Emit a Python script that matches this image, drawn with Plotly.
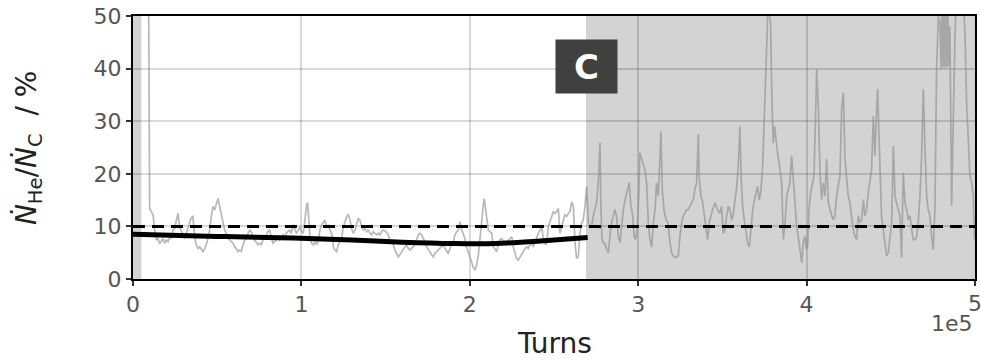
import plotly.graph_objects as go

# Helium-to-carbon rate ratio (%) versus turn number
turns = [
    8700, 9100, 9500, 9900, 10900, 11900, 12900, 13900, 14800, 15800, 16800, 17800, 18800, 19800,
    20800, 21800, 22800, 23700, 24700, 25700, 26700, 27700, 28700, 29700, 30700, 31700, 32700,
    33600, 34600, 35600, 36600, 37600, 38600, 39600, 40600, 41600, 42600, 43500, 44500, 45500,
    46500, 47500, 48500, 49500, 50500, 51500, 52400, 53400, 54400, 55400, 56400, 57400, 58400,
    59400, 60400, 61300, 62300, 63300, 64300, 65300, 66300, 67300, 68300, 69300, 70300, 71200,
    72200, 73200, 74200, 75200, 76200, 77200, 78200, 79200, 80100, 81100, 82100, 83100, 84100,
    85100, 86100, 87100, 88100, 89100, 90100, 91000, 92000, 93000, 94000,
    95200, 96200, 97200, 98200, 99200, 100200, 101100, 102100, 103100, 103700, 104500, 105100,
    106100, 107100, 108100, 109100, 110100, 111000, 112000, 113000, 114000, 115000, 116000,
    117000, 118000, 119000, 119900, 120900, 121900, 122900, 123900, 124900, 125900, 126900,
    127900, 128900, 129800, 130800, 131800, 132800, 133800, 134800, 135800, 136800, 137800,
    138700, 139700, 140700, 141700, 142700, 143700, 144700, 145700, 146700, 147600, 148600,
    149600, 150600, 151600, 152600, 153600, 154600, 155600, 156600, 157500, 158500, 159500,
    160500, 161500, 162500, 163500, 164500, 165500, 166400, 167400, 168400, 169400, 170400,
    171400, 172400, 173400, 174400, 175400, 176400, 177300, 178300, 179300, 180300, 181300,
    182300, 183300, 184300, 185300, 186200, 187200,
    188200, 189200, 190200, 191200, 192200, 193200, 194200, 195200, 196200, 197100, 198100,
    199100, 200100, 201100, 202100, 203100, 204100, 205100, 206100, 207000, 208000, 208600,
    209400, 210000, 211000, 212000, 213000, 214000, 215000, 216000, 216900, 217900, 218900,
    219900, 220900, 221900, 222900, 223900, 224900, 225800, 226800, 227800, 228800, 229800,
    230800, 231800, 232800, 233800, 234700, 235700, 236700, 237700, 238700, 239700, 240700,
    241700, 242700, 243700, 244600, 245600, 246600, 247600, 248600, 249600, 250600, 251600,
    252600, 253500, 254500, 255500, 256500, 257500, 258500, 259500, 260500, 261500, 262500,
    263400, 264400, 265400, 266400, 267400, 268400, 269400,
    270400, 271400, 272400, 273300, 274300, 275300, 276300, 277300, 277900, 278500, 279300,
    280300, 281300, 282300, 283200, 284200, 285200, 286200, 287200, 288200, 289200, 290200,
    291200, 292200, 293100, 294100, 294700, 295500, 296700, 297500, 298500, 299500, 300300,
    301000, 302000, 303000, 304000, 305000, 306000, 307000, 308000, 309000, 310000, 310900,
    311900, 312900, 313500, 314300, 315300, 316500, 317700, 318900, 319800, 320800, 321800,
    322800, 323800, 324800, 325800, 326800, 327800, 328800, 329700, 330700, 331700, 332700,
    333700, 334700, 335700, 336300, 337300, 338300, 339300, 340200, 341200, 342200, 343200,
    344200, 345600, 347000,
    348500, 349500, 350500, 351500, 352500, 353500, 354500, 355500, 356500, 357500, 358500,
    359400, 360400, 361200, 362000, 363000, 364000, 365000, 366000, 367000, 368000, 369000,
    369900, 370900, 371900, 372900, 373900, 374900, 375700, 376400, 377200, 377800, 378600,
    379400, 380200, 381000, 381800, 382800,
    384200, 385200, 386200, 387200, 388200, 389100, 390100, 391100, 392100, 393100, 394100,
    395100, 396100, 397100, 398000, 399000, 399800, 400600, 401400, 402400, 403400, 404400,
    405000, 406000, 407000, 408000, 408900, 409900, 410900, 411900, 412900, 413900, 414900,
    415900, 416800, 417800, 418800, 419800, 420800, 421800,
    422800, 423800, 424700, 425700, 426700, 427700, 428700, 429700, 430700, 431700, 432700,
    433700, 434600, 435600, 436600, 437600, 438600, 439600, 440600, 441600, 442200, 443000,
    443500, 444500, 445500, 446500, 447500, 448500, 449500, 450500, 451500, 452500, 453400,
    454400, 455400, 456400, 457400, 458400, 459400, 460400, 461400, 462400, 463300, 464300,
    465300, 466300, 467300, 468300, 469300, 470300, 471300, 472200, 473200, 474200, 475200,
    476200, 477200, 478200, 479200, 479800, 480400, 481000, 481500, 482100, 482700, 483300,
    483900, 484500, 485100, 486100, 487100, 488100, 489100, 490100, 491400, 493000, 494200,
    495000, 496000, 497000, 498000, 499000, 499600,
]
ratio = [
    90, 60, 25, 13.4, 12.8, 12.2, 9.3, 7.4, 7.7, 6.8, 7.1, 7.7, 6.8, 7.4,
    7.1, 8.0, 7.7, 9.3, 9.6, 11.2, 12.5, 9.9, 9.0, 8.4, 7.7, 8.7, 9.9,
    10.9, 11.7, 11.9, 8.0, 6.5, 5.8, 6.1, 5.5, 5.2, 5.8, 6.5, 7.7, 9.3,
    11.9, 13.8, 13.1, 14.4, 15.3, 13.8, 12.5, 10.6, 9.3, 8.7, 8.0, 7.4, 7.1,
    6.8, 6.1, 5.8, 5.2, 5.5, 5.3, 6.5, 7.4, 8.0, 8.7, 9.3, 9.0, 7.7,
    7.4, 6.8, 6.5, 6.8, 6.5, 7.4, 7.7, 8.4, 9.0, 9.3, 8.0, 6.8, 7.1,
    7.4, 7.7, 7.4, 8.0, 8.4, 8.0, 8.7, 9.0, 9.3, 8.7,
    10.3, 9.3, 8.7, 9.3, 9.9, 9.0, 8.7, 11.2, 14.1, 14.5, 11.2, 8.0,
    6.8, 6.5, 7.1, 6.5, 7.4, 9.3, 10.3, 10.9, 11.2, 9.9, 10.3,
    9.3, 8.7, 6.1, 5.5, 5.2, 6.5, 7.1, 7.7, 9.9, 10.9, 11.9,
    12.2, 11.2, 9.6, 8.7, 9.3, 10.6, 11.5, 11.2, 9.9, 9.3, 9.6,
    9.0, 9.3, 8.7, 8.4, 9.0, 8.7, 8.4, 8.7, 8.4, 9.0, 9.3,
    9.2, 8.7, 8.4, 7.1, 6.8, 6.5, 5.5, 4.9, 4.2, 4.6, 5.2,
    5.5, 6.1, 6.5, 5.8, 5.5, 5.8, 6.1, 6.5, 7.4, 8.4, 8.7,
    8.4, 7.7, 7.1, 6.1, 5.5, 4.9, 4.6, 4.2, 4.9, 5.2, 5.5,
    5.8, 6.1, 6.5, 5.8, 5.2, 4.8,
    5.8, 6.5, 7.1, 8.4, 9.0, 9.3, 10.9, 9.3, 8.4, 7.7, 6.1,
    5.2, 4.2, 3.0, 2.2, 1.7, 2.7, 4.6, 8.4, 11.2, 14.1, 15.3,
    13.1, 11.9, 9.3, 9.0, 8.7, 6.1, 5.5, 5.2, 6.5, 7.4, 7.7,
    7.1, 6.8, 6.5, 7.4, 7.7, 8.0, 6.1, 4.9, 3.9, 3.6, 4.2,
    4.6, 5.2, 5.8, 6.1, 5.8, 6.5, 6.8, 6.1, 7.1, 7.7, 8.7,
    9.3, 9.9, 7.4, 6.8, 6.5, 9.9, 10.9, 11.9, 12.8, 12.5, 12.8,
    13.4, 8.7, 9.9, 11.2, 12.2, 11.9, 12.5, 12.8, 14.7, 13.8, 6.8,
    3.9, 4.2, 8.7, 10.6, 11.2, 13.8, 17.6,
    10.7, 9.8, 10.1, 12.0, 13.2, 14.5, 18.3, 25.9, 13.2, 7.5, 6.9,
    6.6, 5.6, 5.0, 8.2, 10.7, 12.0, 13.2, 11.7, 8.2, 6.9, 10.7,
    13.2, 15.1, 16.4, 17.7, 18.3, 14.5, 12.0, 8.2, 7.5, 10.1, 15.8,
    24.0, 22.8, 21.5, 20.8, 18.3, 10.7, 7.5, 6.0, 10.7, 13.2, 18.3,
    15.8, 22.8, 28.1, 17.0, 13.2, 11.3, 10.7, 6.9, 5.0, 4.4, 4.1,
    4.1, 4.4, 8.2, 10.7, 12.0, 12.6, 13.2, 13.2, 13.9, 14.5, 15.1,
    17.0, 18.3, 27.5, 18.9, 15.8, 14.5, 12.0, 9.4, 7.5, 10.7, 12.0,
    13.2, 14.5, 13.2,
    12.5, 13.8, 8.7, 9.3, 11.9, 13.8, 13.1, 11.2, 12.5, 15.0, 17.6,
    21.4, 29.0, 18.8, 13.8, 11.2, 8.7, 6.8, 6.1, 9.9, 13.1, 15.0,
    16.3, 17.6, 15.0, 16.9, 21.4, 30.9, 40.4, 49.2, 53, 51, 48.6,
    34.0, 25.8, 29.0, 26.4, 23.9,
    20.8, 18.3, 7.5, 10.7, 15.8, 17.0, 18.3, 23.4, 17.7, 14.5, 10.1,
    8.2, 5.6, 3.1, 6.9, 8.2, 5.6, 6.3, 13.2, 16.4, 18.3, 19.6,
    27.2, 39.9, 32.3, 19.6, 15.1, 18.3, 15.8, 22.8, 14.5, 13.2, 12.0,
    11.3, 12.0, 15.8, 17.7, 19.6, 32.3, 35.4,
    22.8, 19.6, 15.8, 14.5, 12.0, 9.4, 8.2, 7.5, 12.0, 10.7, 11.3,
    15.1, 12.0, 13.2, 16.4, 18.3, 20.8, 31.0, 23.4, 32.3, 36.1, 27.2,
    20.8, 12.0, 9.4, 6.9, 4.4, 5.0, 8.2, 10.7, 25.3, 15.8, 14.5,
    13.2, 12.0, 4.1, 20.2, 14.5, 13.2, 11.3, 12.0, 9.4, 7.5, 7.5,
    7.9, 10.7, 15.8, 23.4, 36.1, 24.7, 15.8, 13.2, 12.0, 8.2, 5.6,
    13.2, 39.9, 50, 48.7, 39.9, 55, 40.2, 55, 40.2, 55, 40.2,
    50, 40.5, 48, 13.9, 32.3, 46.2, 55, 60, 60, 55, 45,
    33.5, 25.9, 19.6, 18.3, 15.8, 7.5,
]

# Smoothed trend over the first phase
trend_turns = [0, 50000, 95000, 130000, 160000, 190000, 215000, 240000, 258000, 270000]
trend_ratio = [8.5, 8.1, 7.8, 7.4, 7.0, 6.75, 6.75, 7.2, 7.6, 7.9]

# Reference level
threshold_turns = [0, 500000]
threshold_ratio = [10, 10]

# Shaded turn intervals
shaded_spans = [(0, 5000), (269000, 500000)]

x_ticks = [0, 100000, 200000, 300000, 400000, 500000]
x_tick_text = ["0", "1", "2", "3", "4", "5"]
y_ticks = [0, 10, 20, 30, 40, 50]

fig = go.Figure()

for x0, x1 in shaded_spans:
    fig.add_shape(type="rect", xref="x", yref="paper", x0=x0, x1=x1, y0=0, y1=1,
                  fillcolor="#d3d3d3", line=dict(width=0), layer="below")

fig.add_trace(go.Scatter(x=turns, y=ratio, mode="lines",
                         line=dict(color="rgba(140,140,140,0.62)", width=1.7),
                         showlegend=False, hoverinfo="skip"))
fig.add_trace(go.Scatter(x=threshold_turns, y=threshold_ratio, mode="lines",
                         line=dict(color="black", width=3, dash="12px,7px"),
                         showlegend=False, hoverinfo="skip"))
fig.add_trace(go.Scatter(x=trend_turns, y=trend_ratio, mode="lines",
                         line=dict(color="black", width=5, shape="spline"),
                         showlegend=False, hoverinfo="skip"))

tick_font = dict(family="DejaVu Sans", size=22, color="#555555")

axis_common = dict(
    showline=True, mirror=True, linecolor="black", linewidth=2,
    ticks="outside", ticklen=5, tickwidth=1.5, tickcolor="#333333",
    showgrid=True, gridcolor="rgba(0,0,0,0.15)", gridwidth=1.5,
    zeroline=False, automargin=False, tickfont=tick_font,
)

# The last x label sits on the page edge, so it is placed as an annotation
# (the axis would otherwise drop it) while the axis keeps its tick mark.
axis_labels = x_tick_text[:-1] + [" "]
fig.update_xaxes(range=[0, 500000], tickvals=x_ticks, ticktext=axis_labels, **axis_common)
fig.update_yaxes(range=[0, 50], tickvals=y_ticks, **axis_common)

fig.add_annotation(text=x_tick_text[-1], xref="x", yref="paper", x=x_ticks[-1], y=-0.09,
                   xanchor="center", yanchor="middle", showarrow=False, font=tick_font,
                   height=18)

fig.add_annotation(text="C", xref="x", yref="y", x=269300, y=40.4,
                   showarrow=False, bgcolor="#404040", width=61, height=53, borderpad=0,
                   font=dict(family="DejaVu Sans", size=34, color="white", weight="bold"))
fig.add_annotation(text="Turns", xref="paper", yref="paper", x=0.5, y=-0.247,
                   xanchor="center", yanchor="middle", showarrow=False,
                   font=dict(family="DejaVu Sans", size=28, color="#222222"))
fig.add_annotation(text="1e5", xref="paper", yref="paper", x=1.0, y=-0.168,
                   xanchor="right", yanchor="middle", showarrow=False, font=tick_font,
                   height=18)
fig.add_annotation(text="<i>N\u0307</i><sub>He</sub>/<i>N\u0307</i><sub>C</sub>  / %",
                   xref="paper", yref="paper", x=-0.124, y=0.5, textangle=-90,
                   xanchor="center", yanchor="middle", showarrow=False,
                   font=dict(family="DejaVu Sans", size=28, color="#222222"))

fig.update_layout(
    width=981, height=361,
    margin=dict(l=133, r=6, t=16, b=82, autoexpand=False),
    paper_bgcolor="white", plot_bgcolor="white",
    font=dict(family="DejaVu Sans"),
)

fig.write_html("out.html")
